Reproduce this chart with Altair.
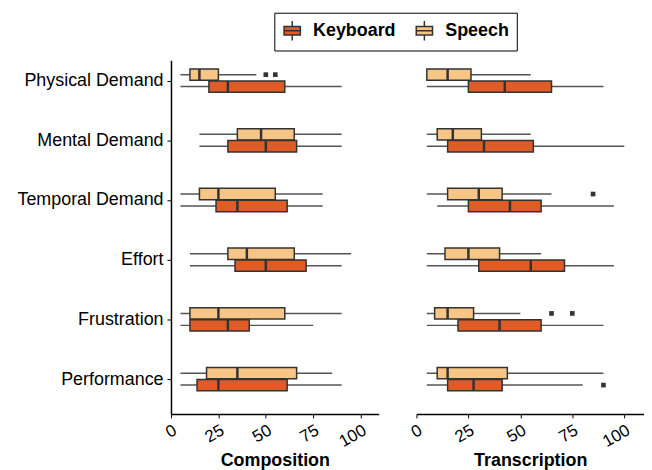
import altair as alt
import pandas as pd

categories = ["Physical Demand", "Mental Demand", "Temporal Demand",
              "Effort", "Frustration", "Performance"]
tasks = ["Composition", "Transcription"]
devices = ["Keyboard", "Speech"]

# five-number summaries per (task, device), in category order
comp_speech_lo = [5, 15, 5, 10, 5, 5]
comp_speech_q1 = [10, 35, 15, 30, 10, 18.75]
comp_speech_med = [15, 47.5, 25, 40, 25, 35]
comp_speech_q3 = [25, 65, 55, 65, 60, 66.25]
comp_speech_hi = [45, 90, 80, 95, 90, 85]

comp_key_lo = [5, 15, 5, 10, 5, 5]
comp_key_q1 = [20, 30, 23.75, 33.75, 10, 13.75]
comp_key_med = [30, 50, 35, 50, 30, 25]
comp_key_q3 = [60, 66.25, 61.25, 71.25, 41.25, 61.25]
comp_key_hi = [90, 90, 80, 90, 75, 90]

tran_speech_lo = [5, 5, 5, 5, 5, 5]
tran_speech_q1 = [5, 10, 15, 13.75, 8.75, 10]
tran_speech_med = [15, 17.5, 30, 25, 15, 15]
tran_speech_q3 = [26.25, 31.25, 41.25, 40, 27.5, 43.75]
tran_speech_hi = [55, 55, 65, 60, 50, 90]

tran_key_lo = [5, 5, 10, 5, 5, 5]
tran_key_q1 = [25, 15, 25, 30, 20, 15]
tran_key_med = [42.5, 32.5, 45, 55, 40, 27.5]
tran_key_q3 = [65, 56.25, 60, 71.25, 60, 41.25]
tran_key_hi = [90, 100, 95, 95, 90, 80]

# outliers: (task, device, category, value)
outlier_task = ["Composition", "Composition", "Transcription", "Transcription", "Transcription", "Transcription"]
outlier_device = ["Speech", "Speech", "Speech", "Speech", "Speech", "Keyboard"]
outlier_category = ["Physical Demand", "Physical Demand", "Temporal Demand", "Frustration", "Frustration", "Performance"]
outlier_value = [50, 55, 85, 65, 75, 90]

summ = {
    ("Composition", "Speech"): (comp_speech_lo, comp_speech_q1, comp_speech_med, comp_speech_q3, comp_speech_hi),
    ("Composition", "Keyboard"): (comp_key_lo, comp_key_q1, comp_key_med, comp_key_q3, comp_key_hi),
    ("Transcription", "Speech"): (tran_speech_lo, tran_speech_q1, tran_speech_med, tran_speech_q3, tran_speech_hi),
    ("Transcription", "Keyboard"): (tran_key_lo, tran_key_q1, tran_key_med, tran_key_q3, tran_key_hi),
}

rows = []
for (t, d), (lo, q1, med, q3, hi) in summ.items():
    for i, c in enumerate(categories):
        rows.append(dict(task=t, device=d, category=c, idx=i,
                         lo=lo[i], q1=q1[i], med=med[i], q3=q3[i], hi=hi[i]))
df = pd.DataFrame(rows)
odf = pd.DataFrame(dict(task=outlier_task, device=outlier_device,
                        category=outlier_category, value=outlier_value))
odf["idx"] = odf["category"].map({c: i for i, c in enumerate(categories)})

KEY_COL = "#E05C27"
SPE_COL = "#F7C585"
FONT = "Liberation Sans"
OFF = 0.1
HALF = 0.095
PANEL_H = 356

label_expr = "[" + ",".join("'" + c + "'" for c in categories) + "][datum.value]"

fill_scale = alt.Scale(domain=devices, range=[KEY_COL, SPE_COL])
legend_path = "M-0.8,-0.42H0.8V0.42H-0.8Z M-0.8,0H0.8 M0,-0.42V-0.95 M0,0.42V0.95"


def panel(task, width, show_y, show_legend):
    ydom = alt.Scale(domain=[-0.343, 5.583], reverse=True, nice=False, zero=False)
    xdom = alt.Scale(domain=[0, 109.5], nice=False, zero=False)
    xaxis = alt.Axis(values=[0, 25, 50, 75, 100], labelAngle=-30, labelAlign="right",
                     labelBaseline="top", labelFontSize=17, labelColor="black",
                     labelFont=FONT, labelPadding=4, tickSize=4, tickColor="black",
                     domainColor="black", domainWidth=1.5, grid=False,
                     title=task, titleFont=FONT, titleFontSize=18, titleFontWeight="bold",
                     titleColor="black", titlePadding=2)
    if show_y:
        yaxis = alt.Axis(values=[0, 1, 2, 3, 4, 5], labelExpr=label_expr, labelFontSize=18,
                         labelColor="black", labelFont=FONT, labelPadding=4, tickSize=4,
                         tickColor="black", domainColor="black", domainWidth=1.5,
                         grid=False, title=None)
    else:
        yaxis = None

    base = alt.Chart(df).transform_filter(alt.datum.task == task).transform_calculate(
        pos=f"datum.idx + (datum.device == 'Speech' ? -{OFF} : {OFF})"
    ).transform_calculate(
        ylo=f"datum.pos - {HALF}", yhi=f"datum.pos + {HALF}"
    )

    whisk = base.mark_rule(color="#555555", strokeWidth=1.5).encode(
        x=alt.X("lo:Q", scale=xdom, axis=xaxis),
        x2="hi:Q",
        y=alt.Y("pos:Q", scale=ydom, axis=yaxis),
    )
    if show_legend:
        legend = alt.Legend(title=None, orient="none", legendX=104, legendY=-47.7,
                            direction="horizontal", strokeColor="black", padding=7,
                            labelFont=FONT, labelFontSize=18, labelFontWeight="bold",
                            labelColor="black", symbolType=legend_path, symbolSize=420,
                            symbolStrokeColor="#333333", symbolStrokeWidth=1.5,
                            columnPadding=16, labelOffset=10)
    else:
        legend = None
    box = base.mark_rect(stroke="#333333", strokeWidth=1.5).encode(
        x="q1:Q", x2="q3:Q",
        y="ylo:Q", y2="yhi:Q",
        fill=alt.Fill("device:N", scale=fill_scale, legend=legend),
    )
    median = base.mark_rule(color="#333333", strokeWidth=2.5).encode(
        x="med:Q", y="ylo:Q", y2="yhi:Q",
    )
    outl = alt.Chart(odf).transform_filter(alt.datum.task == task).transform_calculate(
        pos=f"datum.idx + (datum.device == 'Speech' ? -{OFF} : {OFF})"
    ).mark_square(color="#333333", size=22, opacity=1, filled=True).encode(
        x="value:Q", y="pos:Q",
    )
    return alt.layer(whisk, box, median, outl).properties(width=width, height=PANEL_H)


left = panel("Composition", 209, True, True)
right = panel("Transcription", 229, False, False)

chart = alt.hconcat(left, right, spacing=29).resolve_scale(
    x="independent", y="independent", fill="shared"
).properties(
    padding={"left": 8, "top": 2, "right": 0, "bottom": 0},
    background="white",
).configure_view(stroke=None)

chart.save("out.html", embed_options={"renderer": "svg", "actions": False})
